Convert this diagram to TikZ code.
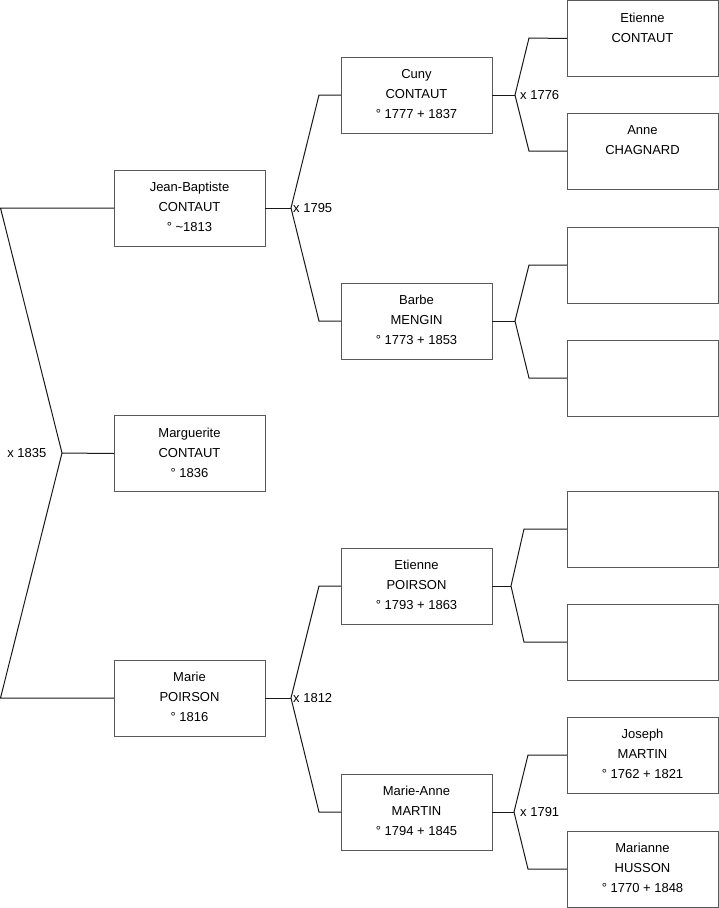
\documentclass[tikz,border=0pt]{standalone}
\usepackage{fontspec}
\setmainfont{Liberation Sans}
\newcommand{\pbx}[1]{\parbox[c][76pt][t]{151pt}{\centering\vspace*{7.8pt}\strut #1}}
\begin{document}
\begin{tikzpicture}[x=1pt,y=-1pt,
  person/.style={draw=black!65, line width=1pt, anchor=north west, inner sep=0pt, outer sep=0pt, font=\fontsize{13}{20}\selectfont},
  conn/.style={draw=black!90, line width=1pt},
  lbl/.style={inner sep=0pt, font=\fontsize{13}{15}\selectfont}]
\useasboundingbox (0,0) rectangle (719,908);
% generation 1
\node[person] (jb) at (114,170) {\pbx{Jean-Baptiste\\CONTAUT\\° \textasciitilde1813}};
\node[person] (marg) at (114,415.5) {\pbx{Marguerite\\CONTAUT\\° 1836}};
\node[person] (marie) at (114,660) {\pbx{Marie\\POIRSON\\° 1816}};
% generation 2
\node[person] (cuny) at (341,57) {\pbx{Cuny\\CONTAUT\\° 1777 + 1837}};
\node[person] (barbe) at (341,283) {\pbx{Barbe\\MENGIN\\° 1773 + 1853}};
\node[person] (etp) at (341,548) {\pbx{Etienne\\POIRSON\\° 1793 + 1863}};
\node[person] (mam) at (341,774) {\pbx{Marie-Anne\\MARTIN\\° 1794 + 1845}};
% generation 3
\node[person] (etc) at (567,0.5) {\pbx{Etienne\\CONTAUT}};
\node[person] (anne) at (567,113) {\pbx{Anne\\CHAGNARD}};
\node[person] (e1) at (567,227) {\pbx{}};
\node[person] (e2) at (567,340) {\pbx{}};
\node[person] (e3) at (567,491) {\pbx{}};
\node[person] (e4) at (567,604) {\pbx{}};
\node[person] (jos) at (567,717) {\pbx{Joseph\\MARTIN\\° 1762 + 1821}};
\node[person] (mhu) at (567,831) {\pbx{Marianne\\HUSSON\\° 1770 + 1848}};
% left couple
\coordinate (r1) at (0.5,208);
\coordinate (r2) at (0.5,698);
\coordinate (j0) at (62,453);
\draw[conn] (jb.west) -- (r1) -- (j0) -- (r2) -- (marie.west);
\draw[conn] (j0) -- (marg.west);
\node[lbl, anchor=east] (l0) at (46.5,453) {x 1835};
% JB parents
\coordinate (j1) at (291,208);
\coordinate (k1a) at (319,95);
\coordinate (k1b) at (319,321);
\draw[conn] (jb.east) -- (j1);
\draw[conn] (cuny.west) -- (k1a) -- (j1) -- (k1b) -- (barbe.west);
\node[lbl, anchor=west] (l1) at (293,208) {x 1795};
% Marie parents
\coordinate (j2) at (291,698);
\coordinate (k2a) at (319,586);
\coordinate (k2b) at (319,812);
\draw[conn] (marie.east) -- (j2);
\draw[conn] (etp.west) -- (k2a) -- (j2) -- (k2b) -- (mam.west);
\node[lbl, anchor=west] (l2) at (293,698) {x 1812};
% Cuny parents
\coordinate (j3) at (515,95);
\coordinate (k3a) at (529,38);
\coordinate (k3b) at (529,151);
\draw[conn] (cuny.east) -- (j3);
\draw[conn] (etc.west) -- (k3a) -- (j3) -- (k3b) -- (anne.west);
\node[lbl, anchor=west] (l3) at (520,95) {x 1776};
% Barbe parents
\coordinate (j4) at (515,321);
\coordinate (k4a) at (529,265);
\coordinate (k4b) at (529,378);
\draw[conn] (barbe.east) -- (j4);
\draw[conn] (e1.west) -- (k4a) -- (j4) -- (k4b) -- (e2.west);
% Etienne POIRSON parents
\coordinate (j5) at (511,586);
\coordinate (k5a) at (524,529);
\coordinate (k5b) at (524,642);
\draw[conn] (etp.east) -- (j5);
\draw[conn] (e3.west) -- (k5a) -- (j5) -- (k5b) -- (e4.west);
% Marie-Anne parents
\coordinate (j6) at (514,812);
\coordinate (k6a) at (528,755);
\coordinate (k6b) at (528,869);
\draw[conn] (mam.east) -- (j6);
\draw[conn] (jos.west) -- (k6a) -- (j6) -- (k6b) -- (mhu.west);
\node[lbl, anchor=west] (l6) at (520,812) {x 1791};
\end{tikzpicture}
\end{document}
